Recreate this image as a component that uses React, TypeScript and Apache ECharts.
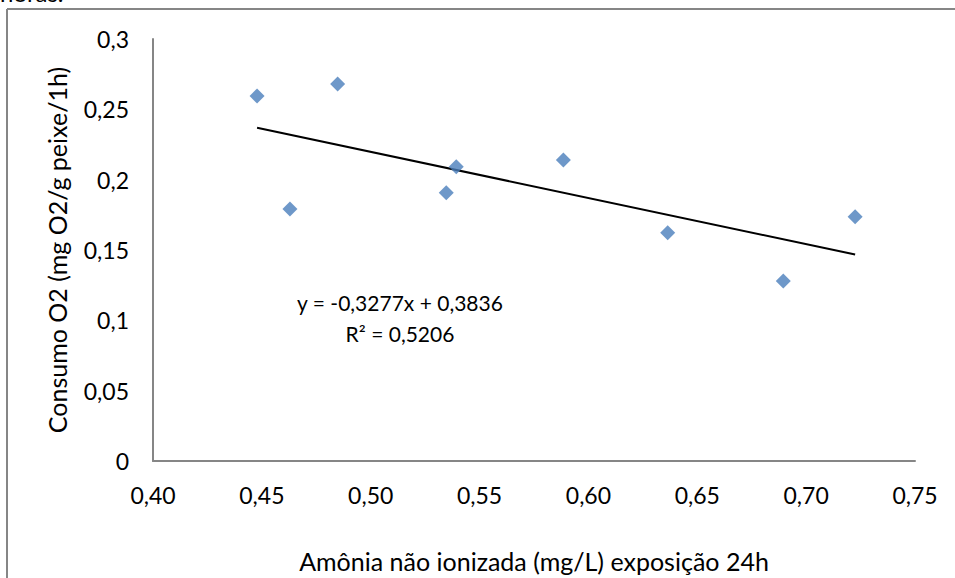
import React, { useEffect, useRef } from "react";
import * as echarts from "echarts";

const amonia = [0.4478, 0.4629, 0.4848, 0.5347, 0.5393, 0.5885, 0.6364, 0.6895, 0.7225];
const consumo = [0.2595, 0.1791, 0.268, 0.1907, 0.2092, 0.214, 0.1623, 0.128, 0.1737];
const trendX = [0.4478, 0.7225];
const trendY = [0.2369, 0.1468];
const equationLines = ["y = -0,3277x + 0,3836", "R² = 0,5206"];
const xTitle = "Amônia não ionizada (mg/L) exposição 24h";
const yTitle = "Consumo O2 (mg O2/g peixe/1h)";
const topText = "horas.";

const FONT = "Lato";

export default function App() {
  const ref = useRef<HTMLDivElement>(null);
  useEffect(() => {
    if (!ref.current) return;
    const chart = echarts.init(ref.current, null, { renderer: "svg" });
    const fmt = (d: number) => (v: number) =>
      v === 0 ? "0" : String(parseFloat(v.toFixed(d))).replace(".", ",");
    chart.setOption({
      animation: false,
      backgroundColor: "#ffffff",
      grid: { left: 153, right: 40, top: 39, bottom: 117 },
      xAxis: {
        type: "value",
        min: 0.4,
        max: 0.75,
        interval: 0.05,
        axisLine: { show: true, lineStyle: { color: "#868686", width: 2 } },
        axisTick: { show: false },
        splitLine: { show: false },
        axisLabel: {
          margin: 22,
          color: "#000",
          fontFamily: FONT,
          fontSize: 23,
          formatter: (v: number) => v.toFixed(2).replace(".", ","),
        },
        name: xTitle,
        nameLocation: "middle",
        nameGap: 87,
        nameTextStyle: { color: "#000", fontFamily: FONT, fontSize: 25 },
      },
      yAxis: {
        type: "value",
        min: 0,
        max: 0.3,
        interval: 0.05,
        axisLine: { show: true, lineStyle: { color: "#868686", width: 2 } },
        axisTick: { show: false },
        splitLine: { show: false },
        axisLabel: {
          margin: 24,
          color: "#000",
          fontFamily: FONT,
          fontSize: 23,
          formatter: fmt(2),
        },
        name: yTitle,
        nameLocation: "middle",
        nameGap: 84,
        nameTextStyle: { color: "#000", fontFamily: FONT, fontSize: 25 },
      },
      series: [
        {
          type: "scatter",
          symbol: "diamond",
          symbolSize: 15,
          itemStyle: { color: "#4A7EBB" },
          data: amonia.map((x, i) => [x, consumo[i]]),
          z: 3,
        },
        {
          type: "line",
          data: trendX.map((x, i) => [x, trendY[i]]),
          showSymbol: false,
          symbol: "none",
          lineStyle: { color: "#000", width: 2 },
          z: 2,
        },
      ],
      graphic: [
        {
          type: "line",
          shape: { x1: 7, y1: 9, x2: 7, y2: 578 },
          style: { stroke: "#868686", lineWidth: 2 },
        },
        {
          type: "line",
          shape: { x1: 7, y1: 9, x2: 955, y2: 9 },
          style: { stroke: "#868686", lineWidth: 2 },
        },
        {
          type: "text",
          left: 0,
          top: -20,
          style: { text: topText, fontFamily: FONT, fontSize: 24, fill: "#000" },
        },
        {
          type: "text",
          x: 400,
          y: 302,
          style: {
            text: equationLines[0],
            fontFamily: FONT,
            fontSize: 21,
            fill: "#000",
            align: "center",
            verticalAlign: "middle",
          },
        },
        {
          type: "text",
          x: 400,
          y: 333,
          style: {
            text: equationLines[1],
            fontFamily: FONT,
            fontSize: 21,
            fill: "#000",
            align: "center",
            verticalAlign: "middle",
          },
        },
      ],
    });
    return () => chart.dispose();
  }, []);
  return (
    <div
      ref={ref}
      style={{ position: "absolute", left: 0, top: 0, width: 955, height: 578 }}
    />
  );
}
